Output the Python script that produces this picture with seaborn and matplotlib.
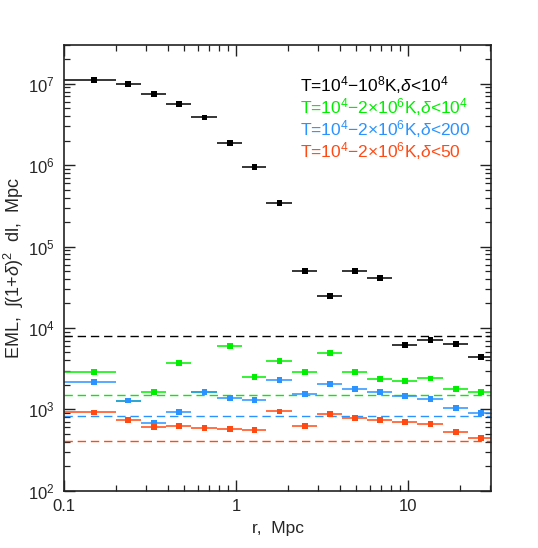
import numpy as np
import pandas as pd
import matplotlib
matplotlib.use("Agg")
import matplotlib.pyplot as plt
import seaborn as sns

# radial bins, Mpc
r_lo = [0.1, 0.2, 0.28, 0.39, 0.55, 0.77, 1.08, 1.5, 2.1, 2.95, 4.13, 5.8, 8.1, 11.3, 15.9, 22.2]
r_hi = [0.2, 0.28, 0.39, 0.55, 0.77, 1.08, 1.5, 2.1, 2.95, 4.13, 5.8, 8.1, 11.3, 15.9, 22.2, 31.0]
r_mid = [0.15, 0.236, 0.333, 0.467, 0.655, 0.92, 1.28, 1.79, 2.52, 3.5, 4.9, 6.85, 9.6, 13.5, 19.0, 26.5]

# EML values for each temperature / overdensity cut
eml_all = [1.12e7, 9.9e6, 7.5e6, 5.6e6, 3.86e6, 1.87e6, 9.5e5, 3.43e5,
           5.0e4, 2.45e4, 5.05e4, 4.1e4, 6.2e3, 7.1e3, 6.4e3, 4.4e3]
eml_whim = [2.85e3, 1.28e3, 1.63e3, 3.73e3, 1.64e3, 6.0e3, 2.49e3, 3.92e3,
            2.87e3, 4.95e3, 2.85e3, 2.38e3, 2.25e3, 2.4e3, 1.76e3, 1.64e3]
eml_d200 = [2.18e3, 1.28e3, 673, 933, 1.64e3, 1.38e3, 1.29e3, 2.28e3,
            1.55e3, 2.03e3, 1.79e3, 1.62e3, 1.45e3, 1.35e3, 1.04e3, 902]
eml_d50 = [918, 733, 607, 630, 595, 569, 557, 944,
           625, 883, 776, 747, 705, 661, 522, 448]

# reference levels (dashed lines)
levels = [7.9e3, 1.5e3, 820, 405]

labels = [r"T=10$^4$$-$10$^8$K,$\delta$<10$^4$",
          r"T=10$^4$$-$2$\times$10$^6$K,$\delta$<10$^4$",
          r"T=10$^4$$-$2$\times$10$^6$K,$\delta$<200",
          r"T=10$^4$$-$2$\times$10$^6$K,$\delta$<50"]
colors = ["#000000", "#00ee00", "#2a93ff", "#ff4a14"]
series = [eml_all, eml_whim, eml_d200, eml_d50]

sns.set_style("ticks")
plt.rcParams["font.family"] = ["Liberation Sans", "DejaVu Sans"]
plt.rcParams["mathtext.fontset"] = "custom"
plt.rcParams["mathtext.rm"] = "Liberation Sans"
plt.rcParams["mathtext.it"] = "Liberation Sans:italic"
plt.rcParams["mathtext.bf"] = "Liberation Sans:bold"

df = pd.concat(
    [pd.DataFrame({"r": r_mid, "lo": r_lo, "hi": r_hi, "eml": s, "cut": lab})
     for s, lab in zip(series, labels)],
    ignore_index=True,
)

fig, ax = plt.subplots(figsize=(5.38, 5.48), dpi=100)
fig.subplots_adjust(left=0.119, right=0.913, top=0.918, bottom=0.1045)

for lab, col, lev in zip(labels, colors, levels):
    ax.axhline(lev, color=col, lw=1.0, ls=(0, (6, 3.5)), zorder=1)

for lab, col in zip(labels, colors):
    d = df[df["cut"] == lab]
    xerr = np.array([d["r"] - d["lo"], d["hi"] - d["r"]])
    ax.errorbar(d["r"], d["eml"], xerr=xerr, fmt="none", ecolor=col,
                elinewidth=1.1, capsize=0, zorder=2)

sns.scatterplot(data=df, x="r", y="eml", hue="cut", palette=colors,
                hue_order=labels, marker="s", s=17, linewidth=0,
                legend=False, ax=ax, zorder=3)

ax.set_xscale("log")
ax.set_yscale("log")
ax.set_xlim(0.1, 30.4)
ax.set_ylim(1e2, 3e7)
ax.set_xticks([0.1, 1, 10])
ax.set_xticklabels(["0.1", "1", "10"])

ax.tick_params(which="both", direction="in", top=True, right=True, color="#222222")
ax.tick_params(which="major", length=8, width=1.0, labelsize=12)
ax.tick_params(which="minor", length=4, width=0.9)
ax.tick_params(axis="y", which="major", pad=7)
ax.tick_params(axis="x", which="major", pad=6)
for sp in ax.spines.values():
    sp.set_linewidth(1.2)
    sp.set_color("#222222")

ax.set_xlabel("r,  Mpc", fontsize=12.5, labelpad=5)
ax.set_ylabel(r"EML,  $\int$(1+$\delta$)$^2$  dl,  Mpc", fontsize=13, va="center")
ax.yaxis.set_label_coords(-0.118, 0.5)

for i, (lab, col) in enumerate(zip(labels, colors)):
    ax.text(0.553, 0.910 - i * 0.0493, lab, color=col, fontsize=12.5,
            transform=ax.transAxes, va="center", ha="left")

fig.savefig("out.png", dpi=100)
